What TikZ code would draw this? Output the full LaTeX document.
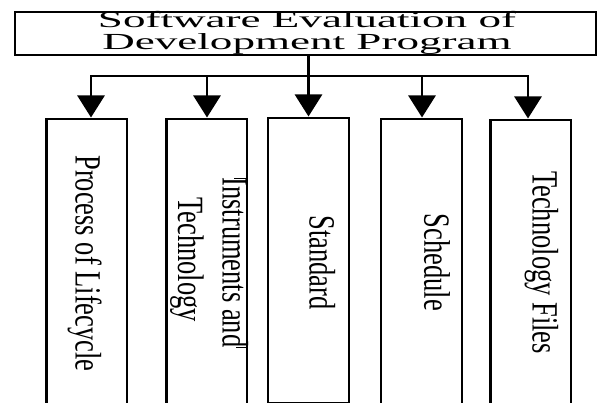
\documentclass[tikz,border=0pt]{standalone}
\usepackage{fontspec}
\setmainfont{Liberation Serif}
\usetikzlibrary{arrows.meta}
\begin{document}
\begin{tikzpicture}[x=1pt,y=-1pt,
  frame/.style={draw, line width=2.8pt, inner sep=0pt, outer sep=0pt},
  conn/.style={line width=2.8pt},
  pointer/.style={conn, shorten >=1.5pt, -{Triangle[width=27pt,length=22pt]}},
  headline/.style={font=\fontsize{23}{22}\selectfont, inner sep=0pt, anchor=base},
  boxlabel/.style={font=\fontsize{37}{44}\selectfont, inner sep=0pt, anchor=base, rotate=-90},
  tick/.style={line width=1pt}]
\useasboundingbox (0,0) rectangle (605,403);

% heading box
\node[frame, minimum width=581pt, minimum height=43pt] (title) at (305.5,33.5) {};
\node[headline] (h1) at (307,27.3) {\scalebox{1.96}[1]{Software Evaluation of}};
\node[headline] (h2) at (307,49.3) {\scalebox{1.96}[1]{Development Program}};

% the five branches, open at the bottom
\node[frame, minimum width=80.3pt, minimum height=320pt, anchor=north] (b1) at (86.85,119) {};
\node[frame, minimum width=80.3pt, minimum height=320pt, anchor=north] (b2) at (206.85,119) {};
\node[frame, minimum width=81pt, minimum height=285.5pt, anchor=north] (b3) at (308.5,118) {};
\node[frame, minimum width=81pt, minimum height=320pt, anchor=north] (b4) at (421.5,119) {};
\node[frame, minimum width=80.3pt, minimum height=320pt, anchor=north] (b5) at (530.85,120) {};

% branch labels
\node[boxlabel] (l1) at (75.7,263.5) {\scalebox{0.716}[1]{Process of Lifecycle}};
\node[boxlabel] (l2a) at (222.7,262.5) {\scalebox{0.716}[1]{Instruments and}};
\node[boxlabel] (l2b) at (178.2,259.5) {\scalebox{0.716}[1]{Technology}};
\node[boxlabel] (l3) at (309.7,262.5) {\scalebox{0.716}[1]{Standard}};
\node[boxlabel] (l4) at (424.3,262.5) {\scalebox{0.716}[1]{Schedule}};
\node[boxlabel] (l5) at (532.7,262.5) {\scalebox{0.716}[1]{Technology Files}};

% short marks where the two-line label meets the right border
\coordinate (m1) at (234,179);
\coordinate (m2) at (236,347);
\draw[tick] (m1) -- (m1 -| b2.east);
\draw[tick] (m2) -- (m2 -| b2.east);

% distribution bus
\coordinate (j1) at (91,76);
\coordinate (j2) at (207,76);
\coordinate (j4) at (422,76);
\coordinate (j5) at (528,76);
\draw[conn, line cap=rect] (j1) -- (j5);
\draw[pointer] (j1) -- (j1 |- b1.north);
\draw[pointer] (j2) -- (j2 |- b2.north);
\draw[pointer] (b3.north |- title.south) -- (b3.north);
\draw[pointer] (j4) -- (j4 |- b4.north);
\draw[pointer] (j5) -- (j5 |- b5.north);
\end{tikzpicture}
\end{document}
